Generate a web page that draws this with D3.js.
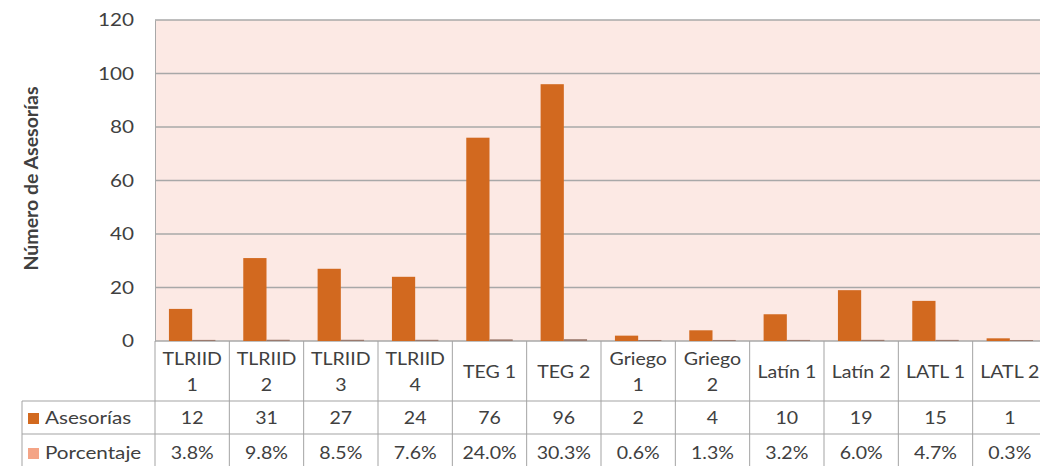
<!DOCTYPE html>
<html>
<head>
<meta charset="utf-8">
<script src="https://cdn.jsdelivr.net/npm/d3@7"></script>
<style>
  body { margin: 0; background: #fff; }
  text { font-family: Lato, "Liberation Sans", sans-serif; fill: #404040; }
</style>
</head>
<body>
<svg width="1040" height="466"></svg>
<script>
const categories = [["TLRIID", "1"], ["TLRIID", "2"], ["TLRIID", "3"], ["TLRIID", "4"],
    ["TEG 1"], ["TEG 2"], ["Griego", "1"], ["Griego", "2"],
    ["Latín 1"], ["Latín 2"], ["LATL 1"], ["LATL 2"]];
const asesorias = [12, 31, 27, 24, 76, 96, 2, 4, 10, 19, 15, 1];
const porcentaje = [0.038, 0.098, 0.085, 0.076, 0.240, 0.303, 0.006, 0.013, 0.032, 0.060, 0.047, 0.003];
const seriesNames = ["Asesorías", "Porcentaje"];
const seriesColors = ["#d2691f", "#f4a486"];
const yTicks = [0, 20, 40, 60, 80, 100, 120];

const svg = d3.select('svg');
const plotLeft = 155, plotRight = 1047, plotTop = 20, plotBottom = 341;
const sx = 1.15; // the original is a bit wider than tall

const x = d3.scaleBand()
    .domain(d3.range(categories.length))
    .range([plotLeft, plotRight]);
const x1 = d3.scaleBand()
    .domain(seriesNames)
    .range([0, x.bandwidth()])
    .paddingOuter(0.6);
const y = d3.scaleLinear().domain([0, 120]).range([plotBottom, plotTop]);

function label(parent, px, py, str, anchor) {
    return parent.append('text')
        .attr('transform', `translate(${px},${py}) scale(${sx},1)`)
        .attr('text-anchor', anchor || 'middle')
        .attr('dy', '0.35em')
        .style('font-size', '17px')
        .text(str);
}

// plot background
svg.append('rect')
    .attr('x', plotLeft).attr('y', plotTop)
    .attr('width', plotRight - plotLeft).attr('height', plotBottom - plotTop)
    .attr('fill', '#fce9e4');

// gridlines
svg.append('g').selectAll('line')
    .data(yTicks)
    .enter().append('line')
    .attr('x1', plotLeft).attr('x2', plotRight)
    .attr('y1', d => y(d)).attr('y2', d => y(d))
    .attr('stroke', '#a8a8a8').attr('stroke-width', 1.3);

// y axis
const yAxis = svg.append('g')
    .attr('transform', `translate(${plotLeft},0)`)
    .call(d3.axisLeft(y).tickValues(yTicks).tickSize(0).tickPadding(18));
yAxis.select('.domain').attr('stroke', '#a8a8a8');
yAxis.selectAll('.tick text').remove();
yTicks.forEach(t => label(svg, 134, y(t), t, 'end').style('font-size', '18px'));

svg.append('text')
    .attr('transform', `translate(31, ${(plotTop + plotBottom) / 2 - 2}) rotate(-90)`)
    .attr('text-anchor', 'middle')
    .attr('dy', '0.35em')
    .style('font-size', '19.5px').style('font-weight', 'bold')
    .attr('fill', '#262626')
    .text('Número de Asesorías');

// bars
const groups = svg.append('g').selectAll('g')
    .data(categories.map((c, i) => i))
    .enter().append('g')
    .attr('transform', i => `translate(${x(i)},0)`);

groups.append('rect')
    .attr('x', x1('Asesorías'))
    .attr('width', x1.bandwidth())
    .attr('y', i => y(asesorias[i]))
    .attr('height', i => y(0) - y(asesorias[i]))
    .attr('fill', seriesColors[0]);

groups.append('rect')
    .attr('x', x1('Porcentaje'))
    .attr('width', x1.bandwidth())
    .attr('y', i => y(porcentaje[i]) - 1)
    .attr('height', i => y(0) - y(porcentaje[i]) + 1)
    .attr('fill', '#9a7a6e');

// data table
const row0 = plotBottom, row1 = 401, row2 = 434, row3 = 472;
const tableLeft = 22;
const grid = '#a3a3a3';
const tbl = svg.append('g');

[row1, row2, row3].forEach(r => {
    tbl.append('line').attr('x1', tableLeft).attr('x2', plotRight)
        .attr('y1', r).attr('y2', r).attr('stroke', grid);
});
tbl.append('line').attr('x1', tableLeft).attr('x2', tableLeft)
    .attr('y1', row1).attr('y2', row3).attr('stroke', grid);
d3.range(categories.length + 1).forEach(i => {
    const xx = i < categories.length ? x(i) : plotRight;
    tbl.append('line').attr('x1', xx).attr('x2', xx)
        .attr('y1', row0).attr('y2', row3).attr('stroke', grid);
});

// category labels
categories.forEach((c, i) => {
    const cx = x(i) + x.bandwidth() / 2;
    if (c.length > 1) {
        label(tbl, cx, 359, c[0]);
        label(tbl, cx, 385, c[1]);
    } else {
        label(tbl, cx, 372, c[0]);
    }
});

// legend keys and values
const rows = [
    {name: seriesNames[0], color: seriesColors[0], y: 418, vals: asesorias.map(String)},
    {name: seriesNames[1], color: seriesColors[1], y: 453, vals: porcentaje.map(d3.format('.1%'))}
];
rows.forEach(r => {
    tbl.append('rect')
        .attr('x', 28).attr('y', r.y - 5)
        .attr('width', 11).attr('height', 11)
        .attr('fill', r.color);
    label(tbl, 45, r.y, r.name, 'start').style('font-size', '18px');
    r.vals.forEach((v, i) => label(tbl, x(i) + x.bandwidth() / 2, r.y, v));
});
</script>
</body>
</html>
